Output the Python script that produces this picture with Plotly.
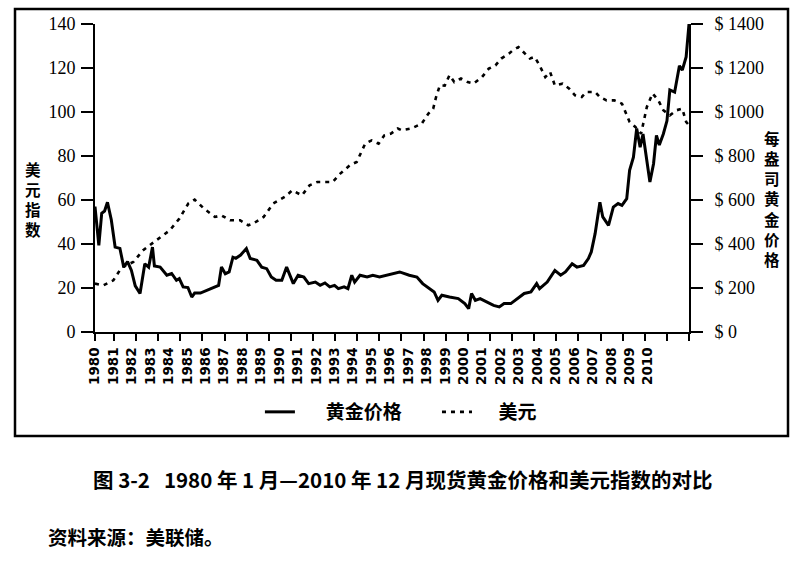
import plotly.graph_objects as go

# ---------------- data ----------------
gold_year = [1980.0, 1980.2, 1980.35, 1980.5, 1980.65, 1980.85, 1981.05, 1981.3, 1981.5, 1981.7,
             1981.9, 1982.1, 1982.35, 1982.6, 1982.8, 1983.0, 1983.1, 1983.4, 1983.75, 1984.0,
             1984.25, 1984.4, 1984.6, 1984.85, 1985.05, 1985.2, 1985.5, 1985.85, 1986.2, 1986.45,
             1986.6, 1986.8, 1987.0, 1987.2, 1987.35, 1987.6, 1987.9, 1988.1, 1988.45, 1988.7,
             1988.96, 1989.2, 1989.45, 1989.75, 1990.0, 1990.2, 1990.35, 1990.6, 1990.9, 1991.15,
             1991.5, 1991.75, 1992.0, 1992.25, 1992.5, 1992.7, 1993.0, 1993.2, 1993.4, 1993.55,
             1993.83, 1994.2, 1994.5, 1994.85, 1995.2, 1995.6, 1995.9, 1996.4, 1996.8, 1997.1,
             1997.5, 1997.7, 1997.9, 1998.1, 1998.5, 1998.96, 1999.3, 1999.5, 1999.65, 1999.85,
             2000.1, 2000.45, 2000.8, 2001.1, 2001.35, 2001.7, 2002.05, 2002.4, 2002.75, 2003.05,
             2003.2, 2003.6, 2004.0, 2004.3, 2004.55, 2004.9, 2005.15, 2005.5, 2005.75, 2005.9,
             2006.1, 2006.35, 2006.5, 2006.8, 2007.05, 2007.3, 2007.5, 2007.75, 2007.9, 2008.1,
             2008.27, 2008.45, 2008.6, 2008.8, 2008.96, 2009.15, 2009.3, 2009.45, 2009.66, 2009.85,
             2010.0, 2010.25, 2010.5, 2010.65, 2010.85, 2011.0]
gold_price = [570, 394, 540, 550, 590, 510, 386, 380, 295, 320,
              280, 210, 175, 310, 295, 386, 300, 295, 258, 266,
              235, 243, 205, 202, 159, 177, 177, 190, 205, 212,
              295, 265, 273, 340, 335, 350, 379, 334, 326, 295,
              288, 250, 235, 235, 295, 250, 220, 258, 250, 220,
              227, 212, 223, 205, 212, 197, 205, 197, 258, 227,
              258, 250, 258, 250, 258, 265, 273, 258, 250, 220,
              197, 182, 144, 167, 159, 152, 129, 106, 175, 144,
              152, 136, 121, 114, 129, 129, 152, 175, 182, 220,
              197, 227, 280, 258, 273, 310, 295, 303, 334, 364,
              447, 590, 523, 485, 568, 584, 576, 606, 735, 795,
              925, 840, 900, 765, 682, 765, 894, 850, 900, 960,
              1100, 1090, 1210, 1190, 1250, 1400]

usd_year = [1980.0, 1980.43, 1980.96, 1981.4, 1982.0, 1982.5, 1983.2, 1983.9, 1984.4, 1984.87,
            1985.2, 1985.7, 1986.26, 1986.6, 1987.05, 1987.57, 1988.0, 1988.26, 1988.8, 1989.3,
            1989.9, 1990.3, 1990.8, 1991.2, 1991.6, 1992.0, 1992.4, 1992.8, 1993.3, 1993.66,
            1994.1, 1994.44, 1994.8, 1995.1, 1995.45, 1995.8, 1996.0, 1996.5, 1997.05, 1997.4,
            1997.65, 1997.8, 1998.0, 1998.25, 1998.5, 1998.75, 1999.1, 1999.45, 1999.75, 2000.2,
            2000.55, 2000.9, 2001.2, 2001.6, 2001.8, 2002.1, 2002.45, 2002.7, 2002.95, 2003.2,
            2003.5, 2003.75, 2004.0, 2004.4, 2004.75, 2005.05, 2005.4, 2005.65, 2006.1, 2006.35,
            2006.7, 2007.1, 2007.5, 2007.9, 2008.2, 2008.5, 2008.8, 2009.1, 2009.4, 2009.66,
            2010.0, 2010.35, 2010.65, 2010.85, 2011.0]
usd_index = [22, 21.2, 23.5, 29.5, 31.8, 37.1, 41.7, 46.2, 51.5, 58.4,
             60.2, 56, 52.3, 53, 50.8, 50.8, 48.5, 49.3, 52.3, 58.4,
             61.4, 64.4, 62.1, 66.7, 68.2, 68.2, 68.2, 72, 75.8, 77.3,
             85.6, 87.1, 85.6, 89.4, 90.2, 92.5, 91.7, 92.5, 94.7, 99.3,
             101.5, 106.8, 112.1, 112, 116.7, 113.6, 115.2, 113.6, 112.9, 115.9,
             119.7, 121.2, 124.3, 126.5, 128, 129.5, 126.5, 124.3, 125, 121.2,
             115.9, 118.2, 112.1, 112.9, 110.6, 107.6, 106.8, 109.1, 109.1, 106.8,
             105.3, 105.3, 103.8, 95.5, 93.2, 90.2, 102.3, 108.4, 105.3, 100.8,
             98.5, 100.8, 101.5, 95.5, 94]

year_labels = [str(y) for y in range(1980, 2011)]
left_ticks = [0, 20, 40, 60, 80, 100, 120, 140]
right_ticks = [0, 200, 400, 600, 800, 1000, 1200, 1400]

# ---------------- layout helpers ----------------
W, H = 802, 562
L, R, T, B = 95, 113, 24, 230
PW, PH = W - L - R, H - T - B
X0, X1 = 1980.0, 2011.0
LABEL_STEP = 0.962          # labels in the original are slightly compressed vs the data scale

def px(xp):
    return (xp - L) / PW

def py(yp):
    return (H - B - yp) / PH

fig = go.Figure()
nb = "\u00a0"
fig.add_trace(go.Scatter(x=gold_year, y=gold_price, yaxis="y2", mode="lines",
                         name=nb * 6 + "黄金价格" + nb * 7,
                         line=dict(color="black", width=3)))
fig.add_trace(go.Scatter(x=usd_year, y=usd_index, mode="lines",
                         name=nb * 5 + "美元",
                         line=dict(color="black", width=2.6, dash="4px,5px")))
# tick-mark carrier for the secondary x axis (invisible)
fig.add_trace(go.Scatter(x=[0], y=[0], xaxis="x2", mode="markers",
                         marker=dict(opacity=0), showlegend=False, hoverinfo="skip"))

serif = dict(family="Liberation Serif", size=18, color="black")
fig.update_layout(
    width=W, height=H,
    margin=dict(l=L, r=R, t=T, b=B),
    paper_bgcolor="white", plot_bgcolor="white",
    xaxis=dict(range=[X0, X1], showgrid=False, zeroline=False,
               showline=True, linecolor="black", linewidth=2,
               tickmode="array",
               tickvals=[X0 + i * LABEL_STEP for i in range(len(year_labels))],
               ticktext=year_labels, tickangle=-90, ticks="",
               ticklabelstandoff=8,
               tickfont=dict(family="DejaVu Sans", size=13.5, color="black", weight="bold")),
    xaxis2=dict(overlaying="x", anchor="y", side="bottom", range=[-0.858, 26],
                tickmode="array", tickvals=[-0.858] + list(range(27)),
                ticks="outside", ticklen=8, tickwidth=2, tickcolor="black",
                showticklabels=False, showgrid=False, zeroline=False, showline=False),
    yaxis=dict(range=[0, 140], tickvals=left_ticks, showgrid=False, zeroline=False,
               showline=True, linecolor="black", linewidth=2,
               ticks="outside", ticklen=12, tickwidth=2, tickcolor="black",
               ticklabelstandoff=2, tickfont=serif),
    yaxis2=dict(range=[0, 1400], tickvals=right_ticks,
                ticktext=["$ " + str(v) for v in right_ticks],
                overlaying="y", side="right", anchor="x", showgrid=False, zeroline=False,
                showline=True, linecolor="black", linewidth=2,
                ticks="outside", ticklen=12, tickwidth=2, tickcolor="black",
                ticklabelstandoff=8, tickfont=serif),
    legend=dict(orientation="h", x=0.515, xanchor="center", y=py(412), yanchor="middle",
                font=dict(family="Noto Sans CJK SC", size=19, color="black", weight="bold"),
                bgcolor="rgba(0,0,0,0)", itemwidth=30),
    showlegend=True,
)

cjk = "Noto Sans CJK SC"
fig.add_annotation(text="<br>".join("美元指数"), xref="paper", yref="paper",
                   x=px(33), y=py(199), xanchor="center", yanchor="middle", showarrow=False,
                   font=dict(family=cjk, size=15.5, color="black", weight="bold"))
fig.add_annotation(text="<br>".join("每盎司黄金价格"), xref="paper", yref="paper",
                   x=px(772), y=py(198), xanchor="center", yanchor="middle", showarrow=False,
                   font=dict(family=cjk, size=15.5, color="black", weight="bold"))
fig.add_annotation(text="图 3-2" + nb * 3 + "1980 年 1 月—2010 年 12 月现货黄金价格和美元指数的对比",
                   xref="paper", yref="paper", x=px(402), y=py(479),
                   xanchor="center", yanchor="middle", showarrow=False,
                   font=dict(family=cjk, size=20.5, color="black", weight="bold"))
fig.add_annotation(text="资料来源：美联储。", xref="paper", yref="paper",
                   x=px(46), y=py(536), xanchor="left", yanchor="middle", showarrow=False,
                   font=dict(family=cjk, size=19.5, color="black", weight="bold"))

# frame around the chart block
fig.add_shape(type="rect", xref="paper", yref="paper",
              x0=px(15), x1=px(788), y0=py(436), y1=py(9),
              line=dict(color="black", width=2.5), fillcolor="rgba(0,0,0,0)", layer="below")

fig.write_html("out.html", config={"displayModeBar": False},
               post_script="document.body.style.margin='0';")
